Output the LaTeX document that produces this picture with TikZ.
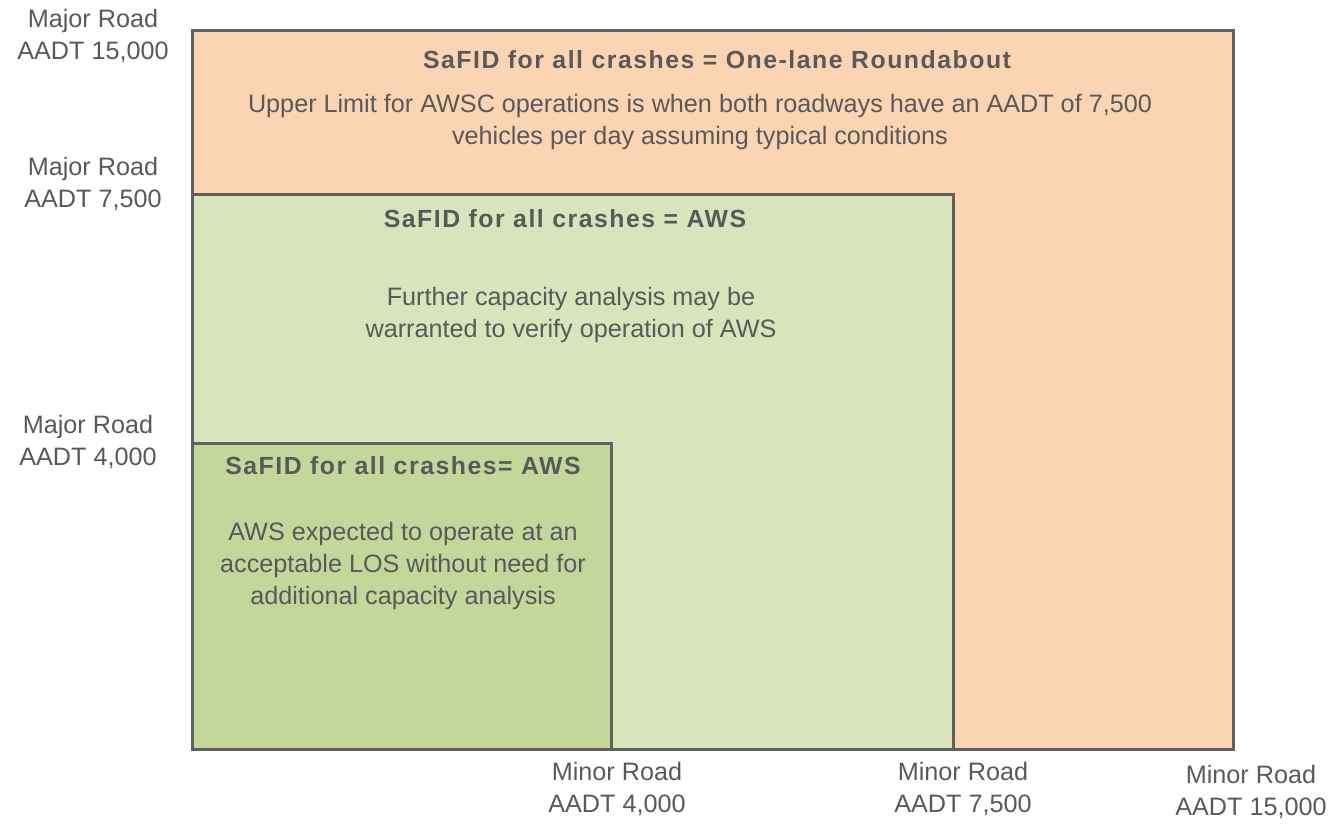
\documentclass[tikz,border=0pt]{standalone}
\usepackage{fontspec}
\setmainfont{Liberation Sans}
\newfontfamily\ttlfont[LetterSpace=6.2]{Liberation Sans}
\definecolor{orangefill}{HTML}{FBD4B4}
\definecolor{lightgreen}{HTML}{D8E4BC}
\definecolor{midgreen}{HTML}{C4D79B}
\definecolor{edgegray}{HTML}{606060}
\definecolor{textgray}{HTML}{595959}
\begin{document}
\begin{tikzpicture}[x=0.5pt,y=-0.5pt,
  zone/.style={draw=edgegray,line width=1.5pt},
  lbl/.style={text=textgray,align=center,inner sep=0pt,font=\fontsize{12.6}{16}\selectfont},
  ttl/.style={text=textgray,align=center,inner sep=0pt,font=\ttlfont\fontsize{12.4}{16}\selectfont\bfseries}]
\useasboundingbox (0,0) rectangle (1334,824);
% zones
\filldraw[zone,fill=orangefill] (192,31) rectangle (1233,749);
\filldraw[zone,fill=lightgreen] (192,195) rectangle (953,749);
\filldraw[zone,fill=midgreen] (192,443) rectangle (611,749);
% zone texts
\node[ttl] (t1) at (717,60) {SaFID for all crashes = One-lane Roundabout};
\node[lbl] (b1) at (700,122) {Upper Limit for AWSC operations is when both roadways have an AADT of 7,500\\vehicles per day assuming typical conditions};
\node[ttl] (t2) at (565,219) {SaFID for all crashes = AWS};
\node[lbl] (b2) at (571,315) {Further capacity analysis may be\\warranted to verify operation of AWS};
\node[ttl] (t3) at (403,466) {SaFID for all crashes= AWS};
\node[lbl] (b3) at (403,565.5) {AWS expected to operate at an\\acceptable LOS without need for\\additional capacity analysis};
% axis labels
\node[lbl] (maj15) at (93,36) {Major Road\\AADT 15,000};
\node[lbl] (maj75) at (93,183.5) {Major Road\\AADT 7,500};
\node[lbl] (maj4) at (88,441.5) {Major Road\\AADT 4,000};
\node[lbl] (min4) at (617,789) {Minor Road\\AADT 4,000};
\node[lbl] (min75) at (963,789) {Minor Road\\AADT 7,500};
\node[lbl] (min15) at (1251,791.5) {Minor Road\\AADT 15,000};
\end{tikzpicture}
\end{document}
